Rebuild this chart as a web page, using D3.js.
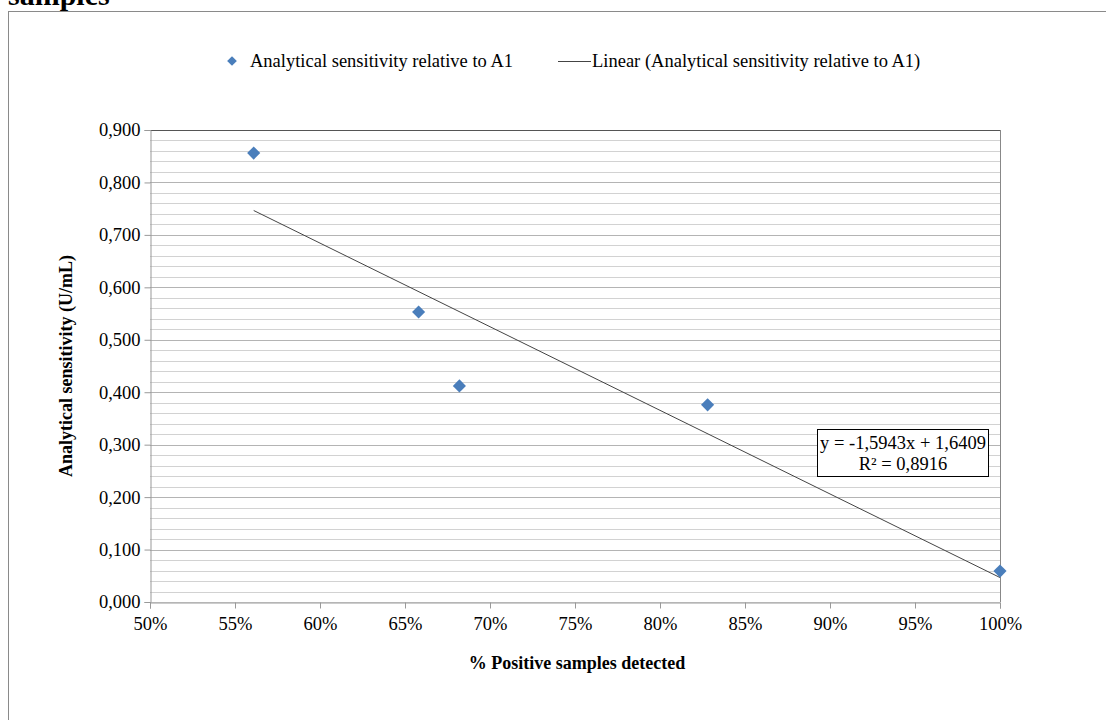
<!DOCTYPE html>
<html>
<head>
<meta charset="utf-8">
<script src="https://cdn.jsdelivr.net/npm/d3@7"></script>
<style>
  html, body { margin: 0; padding: 0; background: #fff; }
  svg { display: block; font-family: "Liberation Serif", "Times New Roman", serif; }
  svg text { font-family: "Liberation Serif", "Times New Roman", serif; }
</style>
</head>
<body>
<svg id="chart" width="1106" height="720"></svg>
<script>
// % positive samples detected (fraction) and analytical sensitivity (U/mL)
const detected = [0.561, 0.658, 0.682, 0.828, 1.000];
const sensitivity = [0.856, 0.553, 0.412, 0.376, 0.059];
// Linear trendline coefficients and fit quality
const trendSlope = -1.5943;
const trendIntercept = 1.6409;
const trendR2 = 0.8916;
const xTicks = [0.50, 0.55, 0.60, 0.65, 0.70, 0.75, 0.80, 0.85, 0.90, 0.95, 1.00];
const yTicks = [0, 0.1, 0.2, 0.3, 0.4, 0.5, 0.6, 0.7, 0.8, 0.9];
const yMinorTicks = d3.range(0, 0.9001, 0.02);

const svg = d3.select("#chart");
const plotLeft = 150, plotRight = 1000, plotTop = 130, plotBottom = 602;
const fs = 18.5;

const x = d3.scaleLinear().domain([0.5, 1.0]).range([plotLeft, plotRight]);
const y = d3.scaleLinear().domain([0, 0.9]).range([plotBottom, plotTop]);

const comma = v => v.toFixed(4).replace(".", ",");

// Title (partially above the frame)
svg.append("text").attr("x", 8).attr("y", 5)
  .attr("font-size", 30).attr("font-weight", "bold").text("samples");

// Outer chart frame
svg.append("rect").attr("x", 8.5).attr("y", 11.5).attr("width", 1120).attr("height", 740)
  .attr("fill", "none").attr("stroke", "#8a8a8a").attr("stroke-width", 1);

// Minor and major horizontal gridlines
svg.append("g").selectAll("line").data(yMinorTicks).join("line")
  .attr("x1", plotLeft).attr("x2", plotRight)
  .attr("y1", d => Math.round(y(d)) + 0.5).attr("y2", d => Math.round(y(d)) + 0.5)
  .attr("stroke", "#d2d2d2").attr("stroke-width", 1);
svg.append("g").selectAll("line").data(yTicks.filter(d => d > 0)).join("line")
  .attr("x1", plotLeft).attr("x2", plotRight)
  .attr("y1", d => Math.round(y(d)) + 0.5).attr("y2", d => Math.round(y(d)) + 0.5)
  .attr("stroke", d => d === 0.9 ? "#555" : "#b4b4b4").attr("stroke-width", 1);

// Right border of plot area
svg.append("line").attr("x1", plotRight + 0.5).attr("x2", plotRight + 0.5)
  .attr("y1", plotTop).attr("y2", plotBottom).attr("stroke", "#888");

// Axes
const yAxis = d3.axisLeft(y).tickValues(yTicks).tickSize(6).tickPadding(4)
  .tickFormat(d => d.toFixed(3).replace(".", ","));
const gy = svg.append("g").attr("transform", `translate(${plotLeft + 0.5},0)`).call(yAxis)
  .attr("font-family", null).attr("font-size", null);
gy.select(".domain").attr("stroke", "#999");
gy.selectAll(".tick line").attr("stroke", "#999");
gy.selectAll("text").attr("font-size", fs).attr("fill", "#000");

const xAxis = d3.axisBottom(x).tickValues(xTicks).tickSize(6).tickPadding(8)
  .tickFormat(d => Math.round(d * 100) + "%");
const gx = svg.append("g").attr("transform", `translate(0,${plotBottom + 0.5})`).call(xAxis)
  .attr("font-family", null).attr("font-size", null);
gx.select(".domain").attr("stroke", "#999");
gx.selectAll(".tick line").attr("stroke", "#999");
gx.selectAll("text").attr("font-size", fs).attr("fill", "#000");

// Axis titles
svg.append("text").attr("x", 577).attr("y", 669).attr("text-anchor", "middle")
  .attr("font-size", 18).attr("font-weight", "bold").text("% Positive samples detected");
svg.append("text").attr("transform", `translate(72,${(plotTop + plotBottom) / 2}) rotate(-90)`)
  .attr("text-anchor", "middle").attr("font-size", 18).attr("font-weight", "bold")
  .text("Analytical sensitivity (U/mL)");

// Linear trendline over the data range
const xr = d3.extent(detected);
svg.append("line")
  .attr("x1", x(xr[0])).attr("y1", y(trendSlope * xr[0] + trendIntercept))
  .attr("x2", x(xr[1])).attr("y2", y(trendSlope * xr[1] + trendIntercept))
  .attr("stroke", "#444").attr("stroke-width", 1);

// Data points
const diamond = d3.symbol().type(d3.symbolDiamond2).size(110);
svg.append("g").selectAll("path").data(detected).join("path")
  .attr("d", diamond)
  .attr("transform", (d, i) => `translate(${x(d)},${y(sensitivity[i])})`)
  .attr("fill", "#4a7ebb");

// Trendline equation box
const eq = svg.append("g").attr("transform", "translate(817,429)");
eq.append("rect").attr("x", 0.5).attr("y", 0.5).attr("width", 171).attr("height", 47)
  .attr("fill", "#fff").attr("stroke", "#000");
eq.append("text").attr("x", 86).attr("y", 20).attr("text-anchor", "middle").attr("font-size", fs)
  .text(`y = ${comma(trendSlope)}x + ${comma(trendIntercept)}`);
eq.append("text").attr("x", 86).attr("y", 41).attr("text-anchor", "middle").attr("font-size", fs)
  .text(`R² = ${comma(trendR2)}`);

// Legend
const lg = svg.append("g");
lg.append("path").attr("d", d3.symbol().type(d3.symbolDiamond2).size(60))
  .attr("transform", "translate(232,61)").attr("fill", "#4a7ebb");
lg.append("text").attr("x", 250).attr("y", 67).attr("font-size", fs)
  .text("Analytical sensitivity relative to A1");
lg.append("line").attr("x1", 558).attr("x2", 591).attr("y1", 61.5).attr("y2", 61.5)
  .attr("stroke", "#444");
lg.append("text").attr("x", 592).attr("y", 67).attr("font-size", fs)
  .text("Linear (Analytical sensitivity relative to A1)");
</script>
</body>
</html>
